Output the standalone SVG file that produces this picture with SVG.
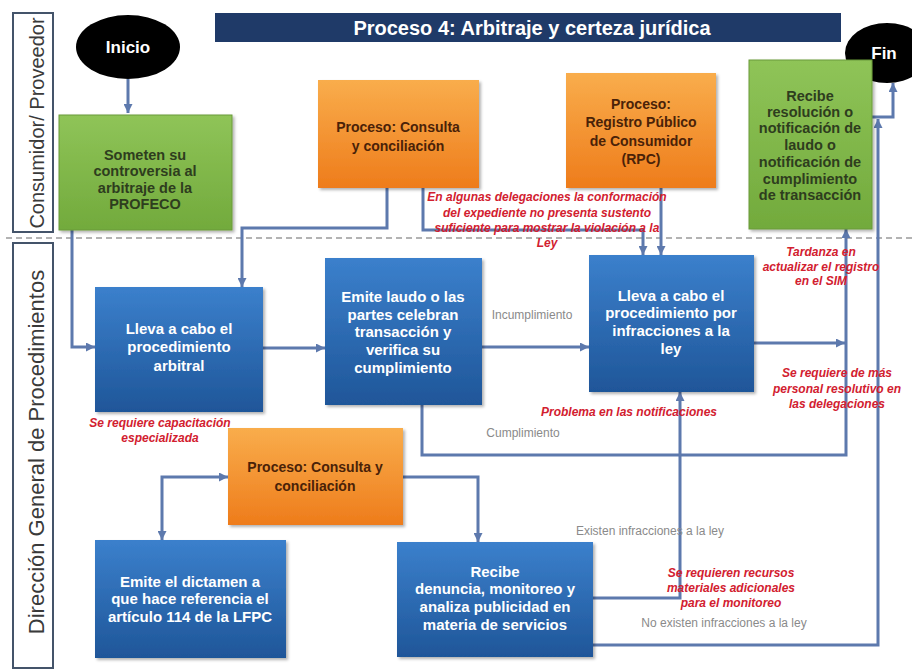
<svg xmlns="http://www.w3.org/2000/svg" width="912" height="672" viewBox="0 0 912 672">
<defs>
  <linearGradient id="gBlue" x1="0" y1="0" x2="0" y2="1">
    <stop offset="0" stop-color="#3b80cc"/>
    <stop offset="1" stop-color="#1f5699"/>
  </linearGradient>
  <linearGradient id="gOrange" x1="0" y1="0" x2="0" y2="1">
    <stop offset="0" stop-color="#f9ad4c"/>
    <stop offset="1" stop-color="#ee7c1b"/>
  </linearGradient>
  <linearGradient id="gGreen" x1="0" y1="0" x2="0" y2="1">
    <stop offset="0" stop-color="#8fc458"/>
    <stop offset="1" stop-color="#72aa3c"/>
  </linearGradient>
  <filter id="sh" x="-10%" y="-10%" width="125%" height="125%">
    <feDropShadow dx="2" dy="2" stdDeviation="1.5" flood-color="#000" flood-opacity="0.3"/>
  </filter>
  <marker id="arr" viewBox="0 0 10 10" refX="10" refY="5" markerWidth="9" markerHeight="9" markerUnits="userSpaceOnUse" orient="auto">
    <path d="M0,0 L10,5 L0,10 z" fill="#5d79ad"/>
  </marker>
  <marker id="arrS" viewBox="0 0 10 10" refX="0" refY="5" markerWidth="9" markerHeight="9" markerUnits="userSpaceOnUse" orient="auto">
    <path d="M10,0 L0,5 L10,10 z" fill="#5d79ad"/>
  </marker>
  <style>
    .lane{fill:#fff;stroke:#44546a;stroke-width:2}
    .lanet{font-family:"Liberation Sans",Arial,sans-serif;fill:#3a3a3a;text-anchor:middle}
    .blue{fill:url(#gBlue);filter:url(#sh)}
    .orange{fill:url(#gOrange);filter:url(#sh)}
    .green{fill:url(#gGreen);stroke:#6a9a3a;stroke-width:1;filter:url(#sh)}
    .tb{font-family:"Liberation Sans",Arial,sans-serif;font-weight:bold;font-size:15px;fill:#fff;text-anchor:middle}
    .to{font-family:"Liberation Sans",Arial,sans-serif;font-weight:bold;font-size:14px;fill:#4a2208;text-anchor:middle}
    .tg{font-family:"Liberation Sans",Arial,sans-serif;font-weight:bold;font-size:14.5px;fill:#2e3d1e;text-anchor:middle}
    .red{font-family:"Liberation Sans",Arial,sans-serif;font-weight:bold;font-style:italic;font-size:12px;fill:#d2202f;text-anchor:middle}
    .gray{font-family:"Liberation Sans",Arial,sans-serif;font-size:12px;fill:#8a8a8a;text-anchor:middle}
    .conn path{fill:none;stroke:#5d79ad;stroke-width:3}
  </style>
</defs>
<rect width="912" height="672" fill="#fff"/>

<!-- lanes -->
<g id="lane-consumidor">
  <rect class="lane" x="13" y="13" width="40" height="219"/>
  <text class="lanet" font-size="20" transform="translate(44,123) rotate(-90)">Consumidor/ Proveedor</text>
</g>
<g id="lane-direccion">
  <rect class="lane" x="13" y="243" width="40" height="425"/>
  <text class="lanet" font-size="22" transform="translate(44,452) rotate(-90)">Dirección General de Procedimientos</text>
</g>
<line x1="6" y1="238" x2="912" y2="238" stroke="#9a9a9a" stroke-width="1.5" stroke-dasharray="6 4"/>

<!-- title -->
<g id="title">
  <rect x="215" y="13" width="626" height="29" fill="#1f3a68"/>
  <text x="532" y="35" font-family="Liberation Sans,Arial,sans-serif" font-weight="bold" font-size="20" fill="#fff" text-anchor="middle">Proceso 4: Arbitraje y certeza jurídica</text>
</g>

<!-- connectors -->
<g id="connectors" class="conn">
  <path d="M128 79 V113" marker-end="url(#arr)"/>
  <path d="M72 230 V347 H95" marker-end="url(#arr)"/>
  <path d="M387 188 V228 H242 V287" marker-end="url(#arr)"/>
  <path d="M263 348 H325" marker-end="url(#arr)"/>
  <path d="M482 347 H589" marker-end="url(#arr)"/>
  <path d="M423 188 V230 H643 V255" marker-end="url(#arr)"/>
  <path d="M661 188 V255" marker-end="url(#arr)"/>
  <path d="M754 343 H845" marker-end="url(#arr)"/>
  <path d="M422 405 V455 H846 V229" marker-end="url(#arr)"/>
  <path d="M872 117 H893 V83" marker-end="url(#arr)"/>
  <path d="M593 645 H878 V119" marker-end="url(#arr)"/>
  <path d="M593 598 H680 V392" marker-end="url(#arr)"/>
  <path d="M228 477 H162 V540" marker-start="url(#arrS)" marker-end="url(#arr)"/>
  <path d="M403 477 H478 V542" marker-end="url(#arr)"/>
</g>

<!-- nodes -->
<g id="inicio">
  <ellipse cx="128" cy="47" rx="52" ry="32" fill="#000"/>
  <text x="128" y="53" font-family="Liberation Sans,Arial,sans-serif" font-weight="bold" font-size="17" fill="#fff" text-anchor="middle">Inicio</text>
</g>
<g id="fin">
  <ellipse cx="887" cy="53" rx="42" ry="30" fill="#000"/>
  <text x="884" y="59" font-family="Liberation Sans,Arial,sans-serif" font-weight="bold" font-size="17" fill="#fff" text-anchor="middle">Fin</text>
</g>
<g id="someten">
  <rect class="green" x="59" y="115" width="173" height="115"/>
  <text class="tg" x="145" y="160">Someten su</text>
  <text class="tg" x="145" y="176">controversia al</text>
  <text class="tg" x="145" y="193">arbitraje de la</text>
  <text class="tg" x="145" y="209">PROFECO</text>
</g>
<g id="consulta1">
  <rect class="orange" x="318" y="80" width="161" height="108"/>
  <text class="to" x="398" y="132">Proceso: Consulta</text>
  <text class="to" x="398" y="151">y conciliación</text>
</g>
<g id="rpc">
  <rect class="orange" x="566" y="73" width="150" height="115"/>
  <text class="to" x="641" y="109">Proceso:</text>
  <text class="to" x="641" y="127">Registro Público</text>
  <text class="to" x="641" y="146">de Consumidor</text>
  <text class="to" x="641" y="164">(RPC)</text>
</g>
<g id="recibe-resolucion">
  <rect class="green" x="749" y="60" width="123" height="169"/>
  <text class="tg" font-size="13.5" x="810" y="101">Recibe</text>
  <text class="tg" font-size="13.5" x="810" y="117">resolución o</text>
  <text class="tg" font-size="13.5" x="810" y="133">notificación de</text>
  <text class="tg" font-size="13.5" x="810" y="150">laudo o</text>
  <text class="tg" font-size="13.5" x="810" y="167">notificación de</text>
  <text class="tg" font-size="13.5" x="810" y="184">cumplimiento</text>
  <text class="tg" font-size="13.5" x="810" y="200">de transacción</text>
</g>
<g id="arbitral">
  <rect class="blue" x="95" y="287" width="168" height="125"/>
  <text class="tb" x="179" y="334">Lleva a cabo el</text>
  <text class="tb" x="179" y="352">procedimiento</text>
  <text class="tb" x="179" y="371">arbitral</text>
</g>
<g id="laudo">
  <rect class="blue" x="325" y="258" width="157" height="147"/>
  <text class="tb" x="403" y="302">Emite laudo o las</text>
  <text class="tb" x="403" y="320">partes celebran</text>
  <text class="tb" x="403" y="337">transacción y</text>
  <text class="tb" x="403" y="355">verifica su</text>
  <text class="tb" x="403" y="373">cumplimiento</text>
</g>
<g id="infracciones">
  <rect class="blue" x="589" y="255" width="165" height="137"/>
  <text class="tb" x="671" y="301">Lleva a cabo el</text>
  <text class="tb" x="671" y="318">procedimiento por</text>
  <text class="tb" x="671" y="336">infracciones a la</text>
  <text class="tb" x="671" y="354">ley</text>
</g>
<g id="consulta2">
  <rect class="orange" x="228" y="428" width="175" height="97"/>
  <text class="to" x="315" y="472">Proceso: Consulta y</text>
  <text class="to" x="315" y="491">conciliación</text>
</g>
<g id="dictamen">
  <rect class="blue" x="95" y="540" width="191" height="118"/>
  <text class="tb" x="190" y="587">Emite el dictamen a</text>
  <text class="tb" x="190" y="604">que hace referencia el</text>
  <text class="tb" x="190" y="622">artículo 114 de la LFPC</text>
</g>
<g id="denuncia">
  <rect class="blue" x="397" y="542" width="196" height="115"/>
  <text class="tb" x="495" y="577">Recibe</text>
  <text class="tb" x="495" y="594">denuncia, monitoreo y</text>
  <text class="tb" x="495" y="612">analiza publicidad en</text>
  <text class="tb" x="495" y="630">materia de servicios</text>
</g>

<!-- annotations -->
<g id="annotations">
  <text class="red" x="547" y="201">En algunas delegaciones la conformación</text>
  <text class="red" x="547" y="217">del expediente no presenta sustento</text>
  <text class="red" x="547" y="232">suficiente para mostrar la violación a la</text>
  <text class="red" x="547" y="247">Ley</text>
  <text class="red" x="821" y="256">Tardanza en</text>
  <text class="red" x="821" y="271">actualizar el registro</text>
  <text class="red" x="821" y="285">en el SIM</text>
  <text class="red" x="837" y="377">Se requiere de más</text>
  <text class="red" x="837" y="393">personal resolutivo en</text>
  <text class="red" x="837" y="408">las delegaciones</text>
  <text class="red" font-size="13" x="629" y="416">Problema en las notificaciones</text>
  <text class="red" font-size="11.5" x="160" y="427">Se requiere capacitación</text>
  <text class="red" font-size="11.5" x="160" y="442">especializada</text>
  <text class="red" x="731" y="577">Se requieren recursos</text>
  <text class="red" x="731" y="592">materiales adicionales</text>
  <text class="red" x="731" y="607">para el monitoreo</text>
  <text class="gray" x="532" y="319">Incumplimiento</text>
  <text class="gray" x="523" y="437">Cumplimiento</text>
  <text class="gray" x="650" y="535">Existen infracciones a la ley</text>
  <text class="gray" x="724" y="627">No existen infracciones a la ley</text>
</g>
</svg>
